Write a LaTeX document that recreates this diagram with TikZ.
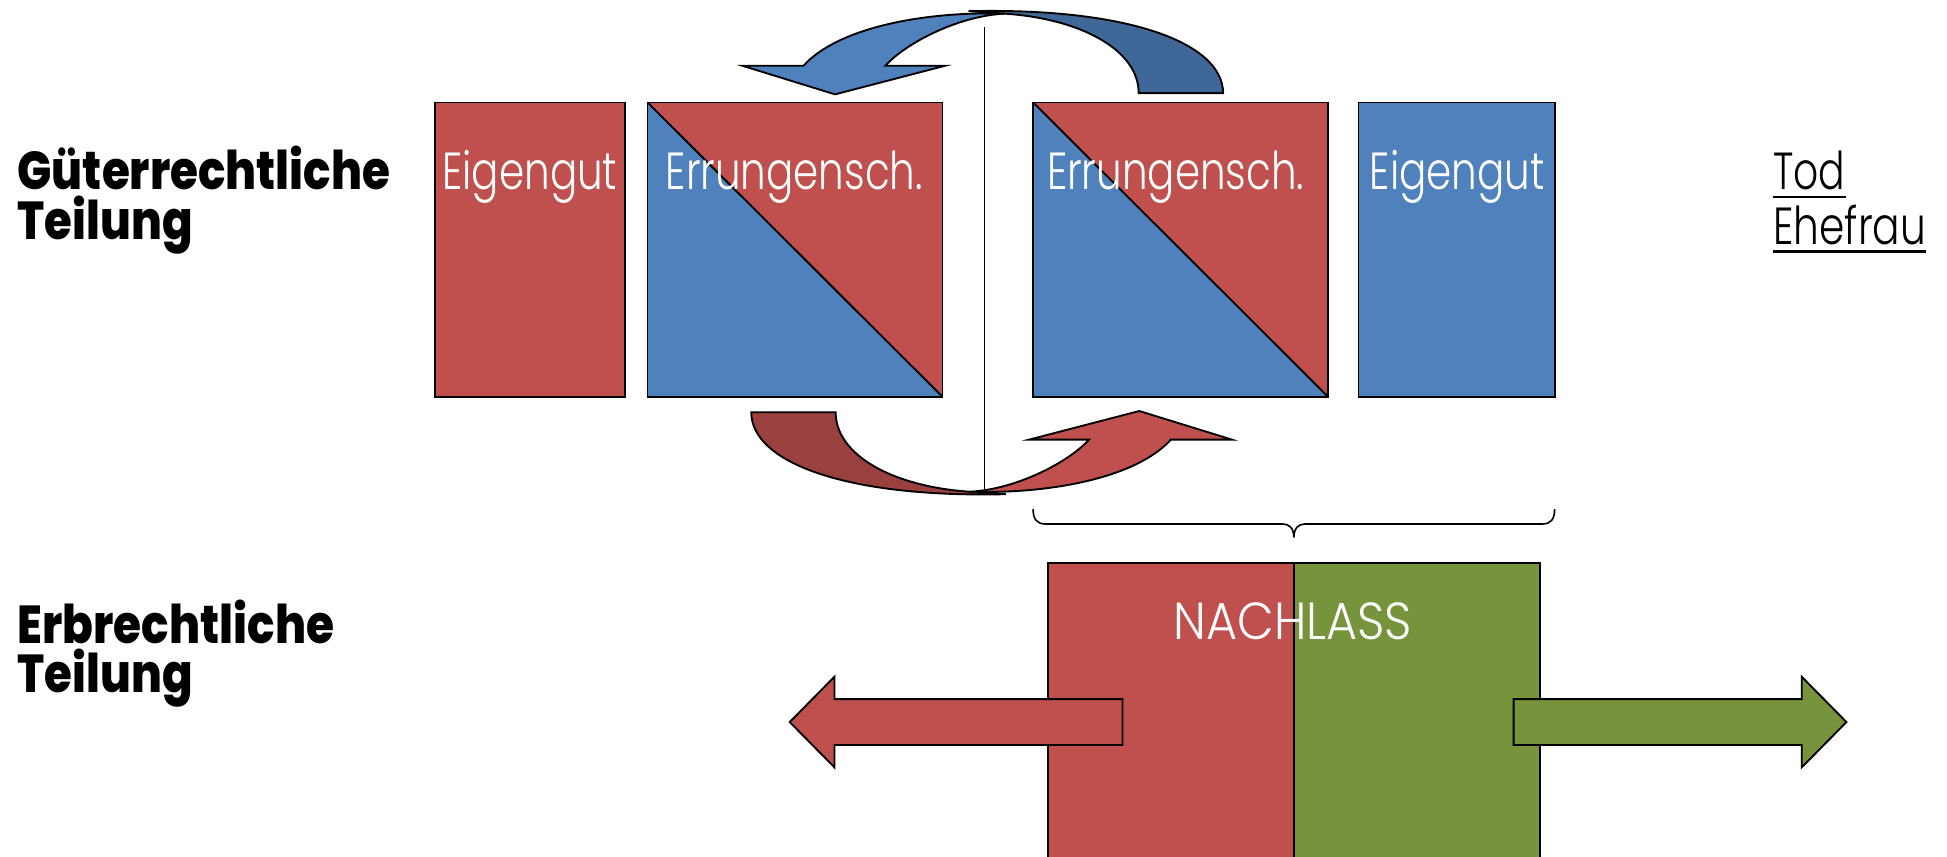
\documentclass[tikz,border=0pt]{standalone}
\usepackage{fontspec}
\usepackage{graphicx}
\IfFontExistsTF{Poppins Light}{\newfontfamily\lightfont{Poppins Light}}{\newfontfamily\lightfont{Poppins}}
\IfFontExistsTF{Poppins ExtraBold}{\newfontfamily\heavyfont{Poppins ExtraBold}}{%
  \IfFontExistsTF{Poppins Bold}{\newfontfamily\heavyfont{Poppins Bold}}{\newfontfamily\heavyfont{Poppins}[FakeBold=2]}}
\newcommand\fw[2]{\resizebox{#1pt}{\height}{#2}}
\newcommand\lbfont{\lightfont\fontsize{42}{48}\selectfont}
\newcommand\hdfont{\heavyfont\fontsize{43}{50}\selectfont}
\definecolor{cred}{HTML}{C0504D}
\definecolor{cdred}{HTML}{9A403E}
\definecolor{cblue}{HTML}{4F81BD}
\definecolor{cdblue}{HTML}{3F6797}
\definecolor{cgreen}{HTML}{77933C}
\newcommand\curvarr[2]{%
  \filldraw[fill=#2, outl] (780,9) .. controls (910,6) and (985,35) .. (985,75)
     -- (917,75) .. controls (917,40) and (870,15) .. (809,11) -- cycle;
  \filldraw[fill=#1, outl] (647,53) .. controls (675,22) and (745,9) .. (809,11)
     .. controls (770,13) and (728,36) .. (713,53) -- (761,53) -- (672.5,76) -- (598,53) -- cycle;
}
\begin{document}
\begin{tikzpicture}[x=1pt,y=-1pt,
  box/.style={draw=black, line width=1.5pt, inner sep=0pt, outer sep=0pt, anchor=north west},
  fbox/.style={inner sep=0pt, outer sep=0pt, anchor=north west},
  lbl/.style={text=white, font=\lbfont, inner sep=0pt, anchor=base west},
  blk/.style={text=black, font=\lbfont, inner sep=0pt, anchor=base west},
  hd/.style={text=black, font=\hdfont, inner sep=0pt, anchor=base west},
  outl/.style={draw=black, line width=1.5pt, line join=miter},
  thin/.style={draw=black, line width=1.3pt}]
\useasboundingbox (0,0) rectangle (1568,690);

% upper boxes
\node[box, fill=cred, minimum width=153pt, minimum height=237pt] (eigL) at (350.5,82.5) {};
\node[box, fill=cblue, minimum width=237.5pt, minimum height=237pt] (errL) at (521.5,82.5) {};
\fill[cred] (errL.north west) -- (errL.north east) -- (errL.south east) -- cycle;
\draw[outl] (errL.north west) -- (errL.south east);
\draw[outl] (errL.north west) rectangle (errL.south east);
\node[box, fill=cblue, minimum width=237.5pt, minimum height=237pt] (errR) at (832,82.5) {};
\fill[cred] (errR.north west) -- (errR.north east) -- (errR.south east) -- cycle;
\draw[outl] (errR.north west) -- (errR.south east);
\draw[outl] (errR.north west) rectangle (errR.south east);
\node[box, fill=cblue, minimum width=158.5pt, minimum height=237pt] (eigR) at (1094,82.5) {};

% labels
\node[lbl] (t1) at (356,153) {\fw{141}{Eigengut}};
\node[lbl] (t2) at (536,153) {\fw{207}{Errungensch.}};
\node[lbl] (t3) at (843,153) {\fw{207}{Errungensch.}};
\node[lbl] (t4) at (1103,153) {\fw{141}{Eigengut}};

% headings
\node[hd] (h1) at (14,153) {\fw{300}{Güterrechtliche}};
\node[hd] (h2) at (14,193) {\fw{141}{Teilung}};
\node[hd] (h3) at (14,518) {\fw{255}{Erbrechtliche}};
\node[hd] (h4) at (14,558) {\fw{141}{Teilung}};

% Tod Ehefrau
\node[blk] (tod) at (1428,153) {\fw{58}{Tod}};
\node[blk] (ehe) at (1428,197) {\fw{123}{Ehefrau}};
\draw[line width=1.8pt] ([yshift=-5.5pt]tod.base west) -- ([yshift=-5.5pt]tod.base east);
\draw[line width=1.8pt] ([yshift=-5.5pt]ehe.base west) -- ([yshift=-5.5pt]ehe.base east);

% vertical line
\coordinate (vtop) at (793,22);
\coordinate (vbot) at (793,398);
\draw[thin] (vtop) -- (vbot);

% curved arrows
\curvarr{cblue}{cdblue}
\begin{scope}[rotate around={180:(795,203.5)}]
\curvarr{cred}{cdred}
\end{scope}

% brace
\coordinate (bl) at (832,410);
\coordinate (bm) at (1042,433);
\coordinate (br) at (1252,410);
\draw[thin] (bl) .. controls (832,418) and (835,422) .. (842,422) -- (1033,422)
  .. controls (1038,422) and (1042,425) .. (bm)
  .. controls (1042,425) and (1046,422) .. (1051,422) -- (1242,422)
  .. controls (1249,422) and (1252,418) .. (br);

% Nachlass
\node[fbox, fill=cred, minimum width=198pt, minimum height=238pt] (nl) at (844,453.5) {};
\node[fbox, fill=cgreen, minimum width=198pt, minimum height=238pt] (nr) at (1042,453.5) {};
\draw[outl] (nl.south west) -- (nl.north west) -- (nr.north east) -- (nr.south east);
\draw[outl] (nl.north east) -- (nl.south east);
\node[lbl] (t5) at (945,515) {\fw{192}{NACHLASS}};

% block arrows
\filldraw[fill=cred, outl] (636,581.5) -- (672,545) -- (672,563) -- (904,563) -- (904,600) -- (672,600) -- (672,618) -- cycle;
\filldraw[fill=cgreen, outl] (1487,581.5) -- (1451,545) -- (1451,563) -- (1219,563) -- (1219,600) -- (1451,600) -- (1451,618) -- cycle;
\end{tikzpicture}
\end{document}
